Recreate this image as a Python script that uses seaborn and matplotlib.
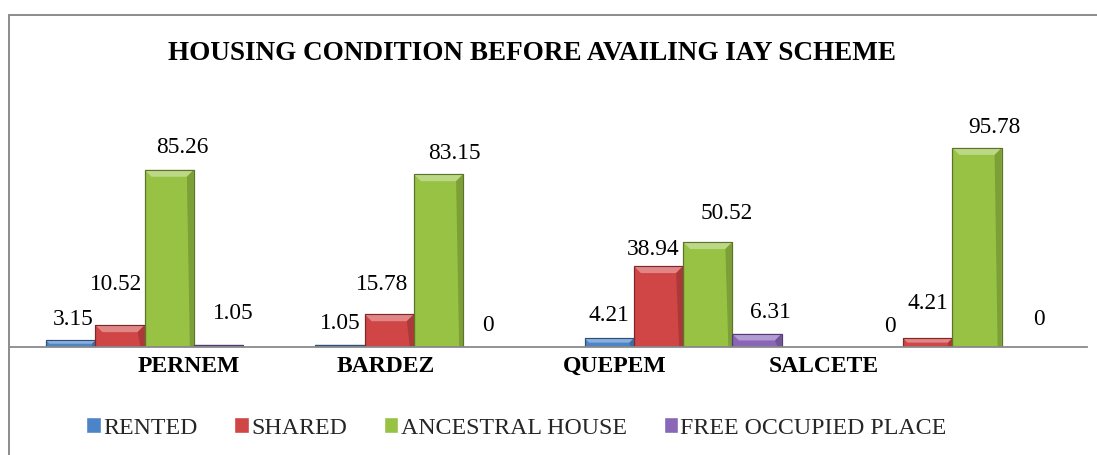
import numpy as np
import pandas as pd
import matplotlib
matplotlib.use("Agg")
import matplotlib.pyplot as plt
import seaborn as sns
from matplotlib.patches import Rectangle, Polygon
from matplotlib.colors import to_rgb

# ---------------- data ----------------
districts = ["PERNEM", "BARDEZ", "QUEPEM", "SALCETE"]
housing_types = ["RENTED", "SHARED", "ANCESTRAL HOUSE", "FREE OCCUPIED PLACE"]
rented = [3.15, 1.05, 4.21, 0]
shared = [10.52, 15.78, 38.94, 4.21]
ancestral = [85.26, 83.15, 50.52, 95.78]
free_occupied = [1.05, 0, 6.31, 0]
title = "HOUSING CONDITION BEFORE AVAILING IAY SCHEME"

# ---------------- styling / layout ----------------
colors = ["#4D84C8", "#D04545", "#98C244", "#8A66B8"]
W, H = 1097, 455
PX = 0.72  # points per pixel at dpi 100
# per-label nudges (pixels) to mimic the original label placement
label_dx = [[2, 0, 0, 11.5], [-3.5, -7.5, -5.5, 0], [13, 15.5, 19, 17], [14.5, 0, 13.5, 12.5]]
label_dy = [[0, 1, 2, 0], [20, 9, -4, 14], [2, 0, 8, 0], [11, 1, 1, 7]]
tick_shift = [0.163, -0.103, -0.255, -0.477]

sns.set_theme(style="white")
plt.rcParams["font.family"] = ["Liberation Serif", "DejaVu Serif"]

df = pd.DataFrame({
    "district": districts * 4,
    "type": np.repeat(housing_types, len(districts)),
    "value": rented + shared + ancestral + free_occupied,
})

fig = plt.figure(figsize=(W / 100, H / 100), dpi=100)
ax_left, ax_right = 10 / W, 1087 / W
ax_bottom = (H - 347) / H
ax_top = (H - 97.6) / H
ax = fig.add_axes([ax_left, ax_bottom, ax_right - ax_left, ax_top - ax_bottom])

sns.barplot(data=df, x="district", y="value", hue="type", order=districts,
            hue_order=housing_types, palette=colors, width=0.7315,
            saturation=1, ax=ax, errorbar=None)

ax.set_xlim(-0.5, 3.5)
ax.set_ylim(0, 120)

# bevel decoration derived from the drawn bars
ux = 4.0 / 1077 * 4.0      # ~4 px in x data units
uy = 120 / 249.4            # 1 px in y data units
for cont, c in zip(ax.containers, colors):
    base = np.array(to_rgb(c))
    dark = tuple(base * 0.6)
    light = tuple(base + (1 - base) * 0.35)
    shade = tuple(base * 0.82)
    for p in cont:
        p.set_edgecolor(dark)
        p.set_linewidth(0.8)
        x0, w, h = p.get_x(), p.get_width(), p.get_height()
        if h <= 0:
            continue
        x1 = x0 + w
        b = min(7 * uy, h / 2)
        bx = b / uy * (1 / 269.3)
        ax.add_patch(Polygon([(x0, h), (x1, h), (x1 - bx, h - b), (x0 + bx, h - b)],
                             closed=True, fc=light, ec="none", zorder=p.get_zorder() + 0.1))
        sx = 4 / 269.3
        ax.add_patch(Polygon([(x1, 0), (x1, h), (x1 - bx, h - b), (x1 - sx, 0)],
                             closed=True, fc=shade, ec="none", zorder=p.get_zorder() + 0.1))
        ax.add_patch(Rectangle((x0, 0), w, h, fill=False, ec=dark, lw=0.8,
                               zorder=p.get_zorder() + 0.2))

ax.set_xlabel("")
ax.set_ylabel("")
ax.set_yticks([])
for s in ["left", "right", "top"]:
    ax.spines[s].set_visible(False)
ax.spines["bottom"].set_color("#8a8a8a")
ax.spines["bottom"].set_linewidth(1.3)
ax.spines["bottom"].set_zorder(5)
ax.set_facecolor("none")

ax.set_xticks(np.arange(len(districts)) + np.array(tick_shift))
ax.set_xticklabels(districts, fontsize=17, fontweight="bold", color="black")
ax.tick_params(axis="x", length=0, pad=6.5)

for i, cont in enumerate(ax.containers):
    labels = [f"{v:g}" for v in cont.datavalues]
    anns = ax.bar_label(cont, labels=labels, fontsize=16.8, color="black", padding=7)
    for j, ann in enumerate(anns):
        ann.xyann = (label_dx[i][j] * PX, (10 + label_dy[i][j]) * PX)

sns.move_legend(ax, "center", bbox_to_anchor=((516.5 - 10) / 1077, (347 - 428) / 249.4),
                ncol=4, frameon=False, title=None, fontsize=17.2,
                handlelength=0.6, handleheight=0.6, handletextpad=0.1,
                columnspacing=1.55)

fig.text(531.5 / W, 1 - 53 / H, title, ha="center", va="center",
         fontsize=19.5, fontweight="bold", color="black")

fig.patches.append(Rectangle((9 / W, -0.05), 1.2, (H - 15) / H + 0.05,
                             transform=fig.transFigure, fill=False,
                             ec="#8c8c8c", lw=1.4))

fig.savefig("out.png", dpi=100)
